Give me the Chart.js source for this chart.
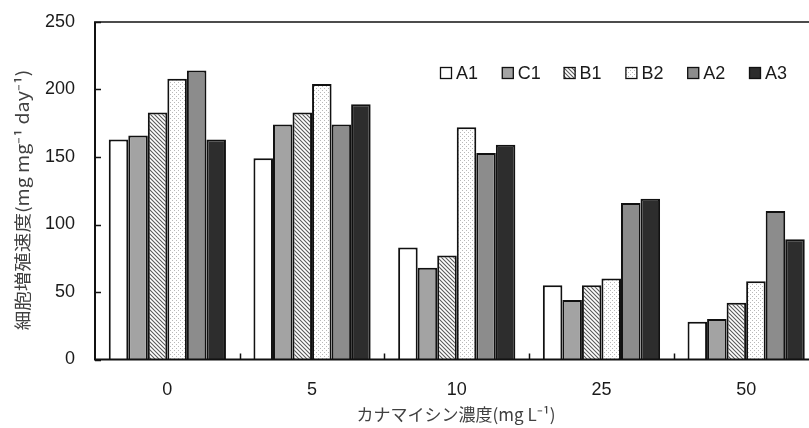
<!DOCTYPE html>
<html><head><meta charset="utf-8">
<script src="https://cdn.jsdelivr.net/npm/chart.js@4.4.1/dist/chart.umd.min.js"></script>
<style>
html,body{margin:0;padding:0;background:#fff;overflow:hidden;width:809px;height:428px}
#wrap{position:absolute;left:0;top:0;width:830px;height:428px}
</style>
</head><body><div id="wrap"><canvas id="c" width="830" height="428"></canvas></div>
<script>
const categories = ['0', '5', '10', '25', '50'];
const seriesNames = ['A1', 'C1', 'B1', 'B2', 'A2', 'A3'];
const A1 = [163, 149, 83, 55, 28];
const C1 = [166, 174, 68, 44, 30];
const B1 = [183, 183, 77, 55, 42];
const B2 = [208, 204, 172, 60, 58];
const A2 = [214, 174, 153, 116, 110];
const A3 = [163, 189, 159, 119, 89];
const yTicks = [0, 50, 100, 150, 200, 250];
const xTitle = 'カナマイシン濃度(mg L⁻¹)';
const yTitle = '細胞増殖速度(mg mg⁻¹ day⁻¹)';

const canvas = document.getElementById('c');
const ctx = canvas.getContext('2d');

function hatchPattern() {
  const c = document.createElement('canvas'); c.width = 4; c.height = 4;
  const x = c.getContext('2d');
  x.fillStyle = '#fff'; x.fillRect(0, 0, 4, 4);
  x.strokeStyle = '#5a5a5a'; x.lineWidth = 1.1;
  x.beginPath();
  x.moveTo(-1, -1); x.lineTo(5, 5);
  x.moveTo(-1, 3); x.lineTo(1, 5);
  x.moveTo(3, -1); x.lineTo(5, 1);
  x.stroke();
  return ctx.createPattern(c, 'repeat');
}
function dotPattern() {
  const c = document.createElement('canvas'); c.width = 4; c.height = 4;
  const x = c.getContext('2d');
  x.fillStyle = '#fff'; x.fillRect(0, 0, 4, 4);
  x.fillStyle = '#b8b8b8';
  x.fillRect(0, 0, 1, 1); x.fillRect(2, 2, 1, 1);
  return ctx.createPattern(c, 'repeat');
}

const seriesData = [A1, C1, B1, B2, A2, A3];
const fills = ['#ffffff', '#a3a3a3', hatchPattern(), dotPattern(), '#8c8c8c', '#2d2d2d'];

const FONT = '"Liberation Sans", Arial, "Noto Sans CJK JP", sans-serif';
const CJK = '"Noto Sans CJK JP", sans-serif';

const framePlugin = {
  id: 'frame',
  afterDatasetsDraw(chart) {
    const {ctx, chartArea: a, scales} = chart;
    ctx.save();
    ctx.strokeStyle = '#111';
    ctx.lineWidth = 2;
    ctx.beginPath();
    ctx.moveTo(a.left, a.top); ctx.lineTo(a.left, a.bottom);
    ctx.moveTo(a.left - 1, a.bottom); ctx.lineTo(a.right, a.bottom);
    ctx.stroke();
    ctx.lineWidth = 1.6;
    ctx.beginPath();
    ctx.moveTo(a.left - 1, a.top); ctx.lineTo(a.right, a.top);
    ctx.stroke();
    ctx.lineWidth = 1.5;
    ctx.beginPath();
    scales.y.ticks.forEach(t => {
      const py = Math.round(scales.y.getPixelForValue(t.value)) + 0.5;
      ctx.moveTo(a.left, py); ctx.lineTo(a.left + 6, py);
    });
    const xs = scales.x;
    for (let i = 1; i < categories.length; i++) {
      const px = Math.round((xs.getPixelForValue(i - 1) + xs.getPixelForValue(i)) / 2) + 0.5;
      ctx.moveTo(px, a.bottom); ctx.lineTo(px, a.bottom - 6);
    }
    ctx.stroke();
    ctx.restore();
  }
};

const titlePlugin = {
  id: 'axisTitles',
  afterDraw(chart) {
    const {ctx} = chart;
    ctx.save();
    ctx.fillStyle = '#404040';
    ctx.textAlign = 'center';
    ctx.textBaseline = 'middle';
    ctx.font = '17px ' + CJK;
    ctx.fillText(xTitle, 456, 415);
    ctx.translate(23, 200);
    ctx.rotate(-Math.PI / 2);
    ctx.scale(1.15, 1);
    ctx.font = '17px ' + CJK;
    ctx.fillText(yTitle, 0, 0);
    ctx.restore();
  }
};

const legendPlugin = {
  id: 'customLegend',
  afterDraw(chart) {
    const {ctx} = chart;
    ctx.save();
    ctx.font = '18px ' + FONT;
    ctx.textBaseline = 'middle';
    chart.data.datasets.forEach((d, i) => {
      const x = 440 + i * 61.8, y = 73;
      ctx.fillStyle = d.backgroundColor;
      ctx.fillRect(x, y - 6, 12, 12);
      ctx.strokeStyle = '#111'; ctx.lineWidth = 1.3;
      ctx.strokeRect(x + 0.5, y - 5.5, 11, 11);
      ctx.fillStyle = '#1a1a1a';
      ctx.fillText(d.label, x + 16, y + 1);
    });
    ctx.restore();
  }
};

new Chart(canvas, {
  type: 'bar',
  data: {
    labels: categories,
    datasets: seriesNames.map((name, i) => ({
      label: name,
      data: seriesData[i],
      backgroundColor: fills[i],
      borderColor: '#111',
      borderWidth: 2,
      categoryPercentage: 0.81,
      barPercentage: 1.0
    }))
  },
  options: {
    responsive: false,
    devicePixelRatio: 1,
    animation: false,
    layout: {padding: {top: 22, right: 11.5, left: 0, bottom: 0}},
    plugins: {legend: {display: false}, tooltip: {enabled: false}},
    scales: {
      x: {
        offset: true,
        grid: {display: false, drawTicks: false},
        border: {display: false},
        ticks: {color: '#1a1a1a', padding: 20, font: {family: FONT, size: 18}},
        title: {display: false, text: xTitle},
        afterFit(s) { s.height = 68.5; s.paddingLeft = 0; s.paddingRight = 0; }
      },
      y: {
        min: 0, max: 250,
        afterBuildTicks(s) { s.ticks = yTicks.map(v => ({value: v})); },
        grid: {display: false, drawTicks: false},
        border: {display: false},
        ticks: {color: '#1a1a1a', padding: 20, font: {family: FONT, size: 18}},
        title: {display: false, text: yTitle},
        afterFit(s) { s.width = 95; s.paddingTop = 0; s.paddingBottom = 0; }
      }
    }
  },
  plugins: [framePlugin, titlePlugin, legendPlugin]
});
</script>
</body></html>
